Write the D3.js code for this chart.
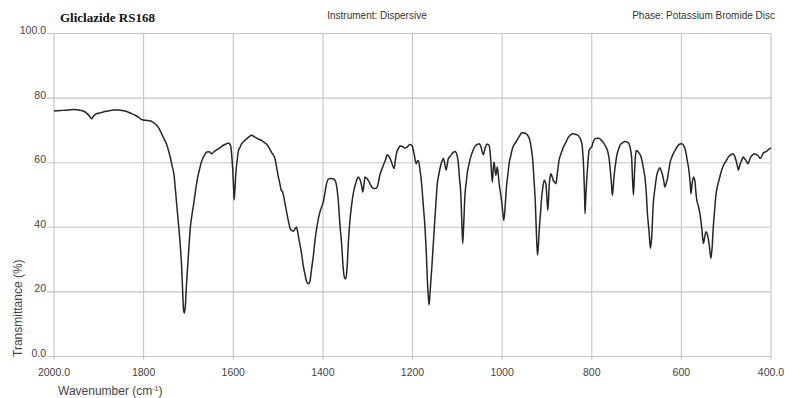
<!DOCTYPE html>
<html lang="en">
<head>
    <meta charset="UTF-8">
    <title>Gliclazide RS168</title>
    <script src="https://cdn.jsdelivr.net/npm/d3@7/dist/d3.min.js" type="text/javascript"></script>
    <style>
        body{margin:0;background:#fff;}
        text{font-family:"Liberation Sans",Arial,sans-serif;}
        text.title{font-family:"Liberation Serif","Times New Roman",serif;}
    </style>
</head>
<body>
<svg width="785" height="398"></svg>
<script type="text/javascript">
    // spectrum: wavenumber (cm-1) and transmittance (%)
    var wavenumber=[2000,1990,1979,1968,1957,1946,1935,1926,1920,1916,1912,1906,1898,1890,1879,1868,1856,1845,1835,1827,
        1819,1812,1806,1801,1793,1786,1778,1771,1765,1760,1754,1748,1744,1740,1736,1732,1729,1726,1723,1720,
        1717,1715,1713,1711,1709,1707,1704,1700,1696,1692,1688,1684,1680,1676,1672,1668,1663,1659,1654,1648,
        1643,1637,1630,1622,1616,1611,1607,1605,1603,1601,1599,1598,1596,1594,1591,1589,1585,1581,1575,1570,
        1565,1559,1553,1548,1542,1537,1531,1525,1520,1515,1511,1507,1503,1500,1496,1493,1490,1488,1484,1481,
        1477,1473,1469,1466,1462,1459,1455,1451,1447,1444,1440,1436,1432,1429,1425,1421,1418,1414,1410,1405,
        1399,1395,1391,1387,1384,1378,1373,1369,1366,1362,1358,1355,1352,1349,1346,1343,1340,1336,1332,1328,
        1324,1321,1318,1316,1313,1311,1308,1306,1302,1299,1295,1291,1285,1280,1276,1273,1269,1265,1260,1256,
        1252,1248,1244,1241,1238,1235,1231,1228,1222,1217,1211,1206,1203,1200,1196,1192,1189,1187,1183,1180,
        1176,1172,1169,1167,1165,1163,1161,1159,1157,1154,1151,1148,1145,1141,1137,1134,1131,1128,1125,1122,
        1120,1116,1113,1109,1105,1101,1098,1095,1092,1090,1088,1086,1083,1080,1078,1074,1070,1065,1060,1056,
        1051,1047,1042,1038,1034,1029,1027,1025,1022,1020,1018,1016,1014,1011,1009,1007,1004,1001,998,996,
        993,990,987,985,981,977,972,967,961,956,950,945,941,938,935,932,929,926,923,921,
        919,917,914,912,909,906,904,902,900,898,896,895,893,891,888,886,883,880,877,873,
        868,863,857,852,847,843,837,831,826,822,820,818,816,815,813,810,808,806,803,800,
        797,793,788,784,779,774,769,764,761,759,756,754,752,750,747,744,740,737,731,726,
        721,717,714,711,709,707,705,703,701,698,696,692,689,685,681,678,676,672,669,666,
        663,659,655,651,648,645,642,639,637,634,631,628,625,621,618,612,607,603,599,595,
        592,589,587,584,582,580,578.5,576,573,571,569.5,568,566,562,558,554,551,548,545,542,
        540,537,534,531,529,526,523,519,515,511,506,500,495,490,485,481,478,475,473,470,
        467,464,462,459,456,453,451,448,445,441,438,434,430,427,424,420,417,413,410,406,
        402,400];
    var transmittance=[76.0,76.1,76.2,76.3,76.5,76.3,76.0,75.2,74.3,73.6,74.4,75.1,75.4,75.7,76.0,76.3,76.3,76.1,75.7,75.2,
        74.7,74.1,73.5,73.2,73.1,73.0,72.4,71.6,70.5,69.0,67.3,65.4,63.5,61.3,58.8,56.1,51.5,46.8,42.2,37.6,
        32.0,27.3,20.5,14.5,13.5,15.5,23.1,31.5,39.6,44.0,47.5,51.5,55.0,57.5,59.8,61.3,62.6,63.3,63.4,62.8,
        63.4,64.0,64.6,65.4,65.8,66.1,65.6,64.5,61.5,57.5,51.5,48.5,52.5,57.1,61.0,63.3,64.8,65.9,66.8,67.4,
        68.0,68.5,68.0,67.6,67.2,66.9,66.3,65.6,64.6,63.3,62.5,61.3,58.5,56.1,53.5,51.5,51.0,49.9,47.0,44.8,
        42.0,39.6,39.0,38.8,39.5,40.1,37.5,34.5,31.3,28.3,25.5,23.1,22.5,23.2,27.3,31.5,35.5,39.5,42.7,45.5,
        47.9,51.0,54.0,55.0,55.1,55.0,54.6,52.5,48.9,41.0,34.5,28.0,24.5,24.0,27.5,35.5,41.5,46.8,50.5,53.0,
        54.8,55.6,55.0,54.3,52.5,50.9,53.5,55.6,55.2,54.6,53.5,52.5,52.0,52.2,54.0,56.1,57.8,59.2,61.0,62.5,
        61.8,60.7,59.0,58.2,61.0,63.3,64.5,65.2,65.0,64.5,65.0,65.6,65.5,64.9,62.5,59.7,60.5,60.7,57.5,54.0,
        47.0,39.6,31.5,24.2,19.0,16.0,19.5,23.5,27.3,34.0,40.6,47.0,53.0,56.5,59.2,60.5,61.3,59.8,57.7,59.8,
        61.3,62.0,62.5,63.2,63.5,62.5,60.2,55.0,49.9,42.0,35.0,40.0,49.9,54.0,56.6,59.5,61.8,63.8,65.2,65.6,
        65.9,64.8,62.5,64.5,65.8,65.4,63.5,60.2,54.0,57.5,60.2,58.0,56.1,58.7,57.0,54.0,51.0,47.9,44.0,42.2,
        47.0,53.0,56.5,59.2,62.0,64.4,65.8,66.9,68.3,69.3,69.2,68.8,68.0,66.9,64.5,61.3,55.0,47.9,36.5,31.4,
        34.5,39.6,45.0,48.9,52.5,54.6,54.2,53.0,49.0,45.3,50.0,53.0,55.5,56.6,55.5,54.6,54.0,53.5,56.5,60.7,
        63.0,64.9,66.5,67.9,68.6,69.0,68.8,68.5,67.5,65.9,63.0,58.2,50.0,44.3,50.5,57.1,61.0,63.8,64.5,64.9,
        66.3,67.4,67.6,67.6,67.0,66.2,65.0,63.3,61.0,58.2,53.5,49.9,52.5,56.1,59.5,62.3,64.2,65.4,66.2,66.6,
        66.4,65.9,64.5,61.5,55.0,50.0,55.5,61.0,63.8,63.6,63.3,62.5,61.3,58.5,55.1,50.0,44.8,38.5,33.5,37.5,
        46.8,52.0,56.1,57.8,58.4,57.5,56.1,54.2,52.5,53.5,55.1,57.8,60.2,61.8,62.8,64.3,65.4,65.8,65.9,65.4,
        64.4,62.5,60.7,58.5,56.1,53.0,50.4,53.5,55.6,55.0,54.0,51.5,48.9,46.5,43.7,39.0,35.0,37.0,38.6,37.8,
        36.5,33.5,30.4,34.5,39.6,45.0,49.9,53.0,55.1,57.3,59.2,60.6,61.8,62.4,62.8,62.0,60.7,59.0,57.7,59.0,
        60.2,61.2,61.8,61.3,60.7,60.0,59.7,60.8,61.8,62.4,62.8,62.6,62.3,61.8,61.3,62.2,63.1,63.3,63.5,64.0,
        64.4,64.6];

    var xTicks=[2000,1800,1600,1400,1200,1000,800,600,400];
    var xTickLabels=['2000.0','1800','1600','1400','1200','1000','800','600','400.0'];
    var yTicks=[0,20,40,60,80,100];
    var yTickLabels=['0.0','20','40','60','80','100.0'];

    var svg=d3.select('svg');
    var plot={left:54,right:771,top:33.5,bottom:356.5};

    // x runs from high wavenumber to low
    var x=d3.scaleLinear().domain([2000,400]).range([plot.left,plot.right]);
    var y=d3.scaleLinear().domain([0,100]).range([plot.bottom,plot.top]);

    //网格线
    var grid=svg.append('g').attr('stroke','#c4c4c4').attr('stroke-width',1.1);
    grid.selectAll('.hl')
        .data(yTicks)
        .enter()
        .append('line')
        .attr('x1',plot.left-7)
        .attr('x2',plot.right)
        .attr('y1',function(d){return y(d);})
        .attr('y2',function(d){return y(d);});
    grid.selectAll('.vl')
        .data(xTicks)
        .enter()
        .append('line')
        .attr('x1',function(d){return x(d);})
        .attr('x2',function(d){return x(d);})
        .attr('y1',plot.top)
        .attr('y2',plot.bottom+3);

    //刻度文字
    svg.selectAll('.yl')
        .data(yTicks)
        .enter()
        .append('text')
        .attr('x',plot.left-8)
        .attr('y',function(d){return y(d)+0.5;})
        .attr('text-anchor','end')
        .attr('font-size','10.5px')
        .attr('fill','#444')
        .text(function(d,i){return yTickLabels[i];});
    svg.selectAll('.xl')
        .data(xTicks)
        .enter()
        .append('text')
        .attr('x',function(d){return x(d);})
        .attr('y',375.5)
        .attr('text-anchor','middle')
        .attr('font-size','10.5px')
        .attr('fill','#444')
        .text(function(d,i){return xTickLabels[i];});

    //光谱曲线
    var points=wavenumber.map(function(w,i){return [w,transmittance[i]];});
    var line=d3.line()
        .x(function(d){return x(d[0]);})
        .y(function(d){return y(d[1]);})
        .curve(d3.curveMonotoneX);
    svg.append('path')
        .datum(points)
        .attr('d',line)
        .attr('fill','none')
        .attr('stroke','#262626')
        .attr('stroke-width',1.5)
        .attr('stroke-linejoin','round');

    //标题与轴标题
    svg.append('text')
        .attr('class','title')
        .attr('x',60)
        .attr('y',21.5)
        .attr('font-weight','bold')
        .attr('font-size','13px')
        .attr('fill','#111')
        .text('Gliclazide RS168');
    svg.append('text')
        .attr('x',377)
        .attr('y',19)
        .attr('text-anchor','middle')
        .attr('font-size','10px')
        .attr('fill','#333')
        .text('Instrument:  Dispersive');
    svg.append('text')
        .attr('x',775)
        .attr('y',19)
        .attr('text-anchor','end')
        .attr('font-size','10px')
        .attr('fill','#333')
        .text('Phase:  Potassium Bromide Disc');

    var xt=svg.append('text')
        .attr('x',58)
        .attr('y',395)
        .attr('font-size','12px')
        .attr('fill','#444');
    xt.append('tspan').text('Wavenumber (cm');
    xt.append('tspan').attr('font-size','7px').attr('dy',-4).text('-1');
    xt.append('tspan').attr('dy',4).text(')');

    svg.append('text')
        .attr('transform','translate(22,357) rotate(-90)')
        .attr('font-size','12px')
        .attr('fill','#444')
        .text('Transmittance (%)');
</script>
</body>
</html>
